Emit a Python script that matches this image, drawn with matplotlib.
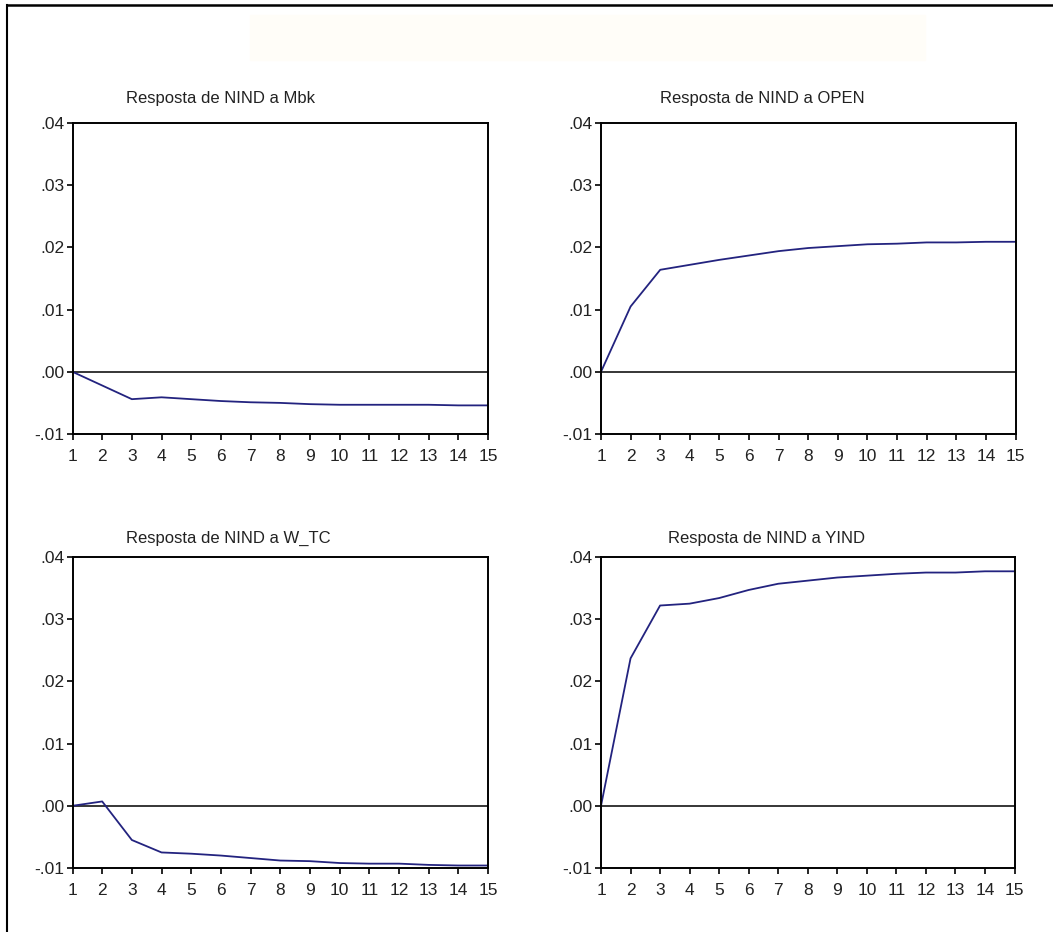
import numpy as np
import matplotlib
matplotlib.use("Agg")
import matplotlib.pyplot as plt
from matplotlib.patches import Rectangle
from matplotlib.lines import Line2D

periods = list(range(1, 16))

resp_mbk = [0.0, -0.0022, -0.0044, -0.0041, -0.0044, -0.0047, -0.0049, -0.0050,
            -0.0052, -0.0053, -0.0053, -0.0053, -0.0053, -0.0054, -0.0054]
resp_open = [0.0, 0.0105, 0.0164, 0.0172, 0.0180, 0.0187, 0.0194, 0.0199,
             0.0202, 0.0205, 0.0206, 0.0208, 0.0208, 0.0209, 0.0209]
resp_wtc = [0.0, 0.0007, -0.0055, -0.0075, -0.0077, -0.0080, -0.0084, -0.0088,
            -0.0089, -0.0092, -0.0093, -0.0093, -0.0095, -0.0096, -0.0096]
resp_yind = [0.0, 0.0237, 0.0322, 0.0325, 0.0334, 0.0347, 0.0357, 0.0362,
             0.0367, 0.0370, 0.0373, 0.0375, 0.0375, 0.0377, 0.0377]

titles = ["Resposta de NIND a Mbk", "Resposta de NIND a OPEN",
          "Resposta de NIND a W_TC", "Resposta de NIND a YIND"]
series = [resp_mbk, resp_open, resp_wtc, resp_yind]

y_ticks = [-0.01, 0.0, 0.01, 0.02, 0.03, 0.04]
y_tick_labels = ["-.01", ".00", ".01", ".02", ".03", ".04"]

plt.rcParams['font.family'] = ['Liberation Sans', 'DejaVu Sans']

W, H = 1053, 932
fig = plt.figure(figsize=(W / 100, H / 100), dpi=100)

# pixel boxes (left, top, right, bottom) of each plot frame
boxes = [(72.5, 123, 488, 434), (601, 123, 1015.5, 434),
         (72.5, 557, 488, 868), (601, 557, 1014.5, 868)]
title_pos = [(221, 98), (762, 98), (228, 538), (766, 538)]

# faint band at the top and the outer frame lines
fig.patches.append(Rectangle((250 / W, 1 - 60 / H), 675 / W, 45 / H,
                             transform=fig.transFigure, color='#fffdf8', zorder=0))
fig.lines.append(Line2D([7 / W, 7 / W], [0, 1 - 5 / H], transform=fig.transFigure,
                        color='black', lw=1.5))
fig.lines.append(Line2D([7 / W, 1], [1 - 5 / H, 1 - 5 / H], transform=fig.transFigure,
                        color='black', lw=1.8))

for box, tpos, title, vals in zip(boxes, title_pos, titles, series):
    l, t, r, b = box
    ax = fig.add_axes([l / W, 1 - b / H, (r - l) / W, (b - t) / H])
    ax.axhline(0, color='black', lw=1.1, zorder=1)
    ax.plot(periods, vals, color='#23237f', lw=1.3, zorder=2)
    ax.set_xlim(1, 15)
    ax.set_ylim(-0.01, 0.04)
    ax.set_xticks(periods)
    ax.set_xticklabels([str(p) for p in periods])
    ax.set_yticks(y_ticks)
    ax.set_yticklabels(y_tick_labels)
    ax.tick_params(direction='out', length=4, width=1.2, labelsize=12.5,
                   colors='black', labelcolor='#222222')
    ax.tick_params(axis='x', pad=7)
    ax.tick_params(axis='y', pad=2)
    for sp in ax.spines.values():
        sp.set_linewidth(1.4)
    fig.text(tpos[0] / W, 1 - tpos[1] / H, title, ha='center', va='center',
             fontsize=12, color='#222222')

fig.savefig("out.png", dpi=100)
